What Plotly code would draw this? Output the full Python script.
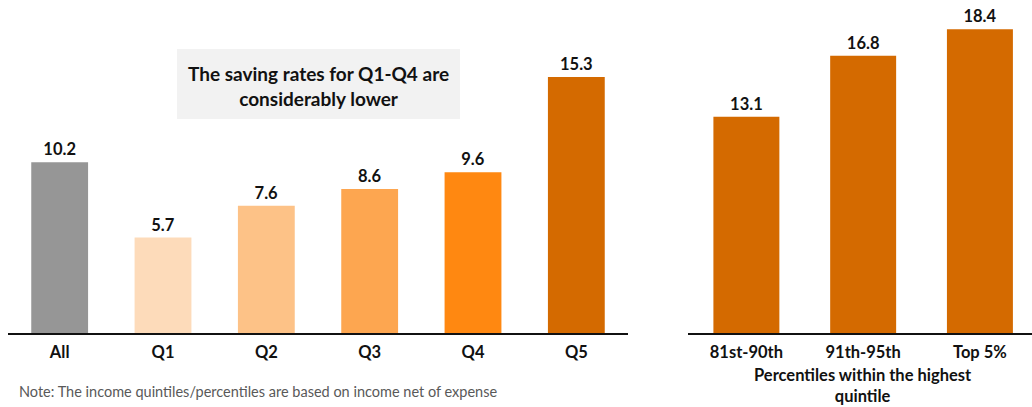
import plotly.graph_objects as go

# Saving rates by income quintile
quintile_labels = ["All", "Q1", "Q2", "Q3", "Q4", "Q5"]
quintile_rates = [10.2, 5.7, 7.6, 8.6, 9.6, 15.3]
quintile_colors = ["#969696", "#FDDBBA", "#FDC287", "#FDA650", "#FF8811", "#D46A00"]

# Saving rates within the top quintile
top_labels = ["81st-90th", "91th-95th", "Top 5%"]
top_rates = [13.1, 16.8, 18.4]
top_color = "#D46A00"

callout_lines = ["The saving rates for Q1-Q4 are", "considerably lower"]
right_axis_title = ["Percentiles within the highest", "quintile"]
note_text = "Note: The income quintiles/percentiles are based on income net of expense"

W, H = 1032, 407
FONT = "Lato"
LABEL_SIZE = 16.5


def px_x(p):
    return p / W


def px_y(p):
    return 1 - p / H


fig = go.Figure()

fig.add_trace(go.Bar(
    x=quintile_labels, y=quintile_rates,
    marker=dict(color=quintile_colors, line=dict(width=0)),
    text=[f"{v:.1f}" for v in quintile_rates],
    textposition="outside",
    textfont=dict(family=FONT, size=LABEL_SIZE, color="#111111", weight="bold"),
    cliponaxis=False,
    width=0.55,
    xaxis="x", yaxis="y",
    hoverinfo="skip",
))

fig.add_trace(go.Bar(
    x=top_labels, y=top_rates,
    marker=dict(color=top_color, line=dict(width=0)),
    text=[f"{v:.1f}" for v in top_rates],
    textposition="outside",
    textfont=dict(family=FONT, size=LABEL_SIZE, color="#111111", weight="bold"),
    cliponaxis=False,
    width=0.565,
    xaxis="x2", yaxis="y2",
    hoverinfo="skip",
))

base_y = px_y(333)

fig.update_layout(
    width=W, height=H,
    margin=dict(l=0, r=0, t=0, b=0),
    paper_bgcolor="white", plot_bgcolor="white",
    showlegend=False,
    font=dict(family=FONT, color="#111111"),
    xaxis=dict(
        domain=[px_x(8), px_x(628)], range=[-0.5, 5.5],
        showline=True, linecolor="#111111", linewidth=1.5,
        showgrid=False, zeroline=False, ticks="",
        tickfont=dict(family=FONT, size=LABEL_SIZE, color="#111111", weight="bold"),
        ticklabelstandoff=3,
        anchor="y", fixedrange=True,
    ),
    yaxis=dict(
        domain=[base_y, 1], range=[0, 19.9],
        visible=False, anchor="x", fixedrange=True,
    ),
    xaxis2=dict(
        domain=[px_x(688), 1], range=[-0.5, 2.446],
        showline=True, linecolor="#111111", linewidth=1.5,
        showgrid=False, zeroline=False, ticks="",
        tickfont=dict(family=FONT, size=LABEL_SIZE, color="#111111", weight="bold"),
        ticklabelstandoff=3,
        anchor="y2", fixedrange=True,
    ),
    yaxis2=dict(
        domain=[base_y, 1], range=[0, 20.18],
        visible=False, anchor="x2", fixedrange=True,
    ),
)

# Callout box
fig.add_shape(
    type="rect", xref="paper", yref="paper",
    x0=px_x(177), x1=px_x(460), y0=px_y(119), y1=px_y(49),
    fillcolor="#F2F2F2", line=dict(width=0), layer="below",
)
fig.add_annotation(
    xref="paper", yref="paper", x=px_x(318.5), y=px_y(86),
    text="<br>".join(callout_lines), showarrow=False,
    font=dict(family=FONT, size=19, color="#111111", weight="bold"),
    align="center", xanchor="center", yanchor="middle",
)

# Right-hand axis title
fig.add_annotation(
    xref="paper", yref="paper", x=px_x(863), y=px_y(385),
    text="<br>".join(right_axis_title), showarrow=False,
    font=dict(family=FONT, size=16.5, color="#111111", weight="bold"),
    align="center", xanchor="center", yanchor="middle",
    borderpad=0,
)

# Footnote
fig.add_annotation(
    xref="paper", yref="paper", x=px_x(17), y=px_y(391),
    text=note_text, showarrow=False,
    font=dict(family=FONT, size=14.5, color="#595959"),
    xanchor="left", yanchor="middle",
)

fig.write_html("out.html")
